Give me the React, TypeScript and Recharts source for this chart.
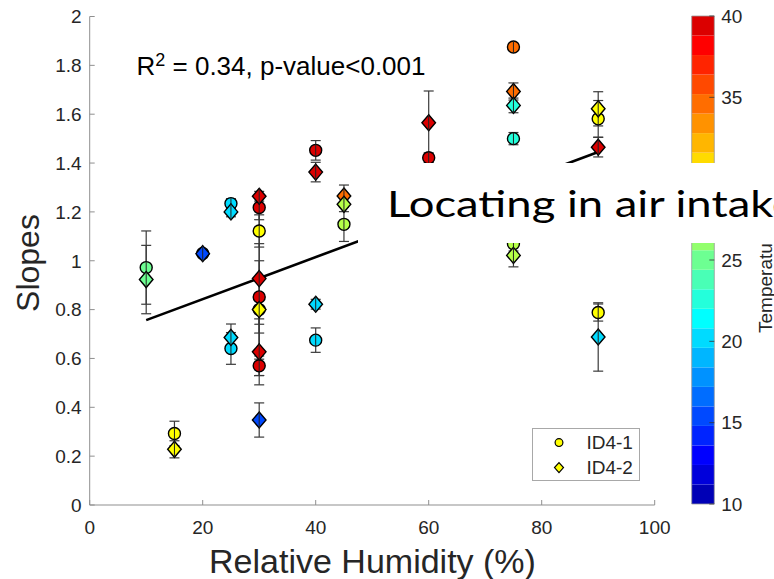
import React from 'react';
import {
  ScatterChart,
  Scatter,
  XAxis,
  YAxis,
  ErrorBar,
  ReferenceArea,
  Legend,
  Customized,
} from 'recharts';

const FONT = "'Liberation Sans', Arial, Helvetica, sans-serif";
const TEXT = '#262626';
const AXIS = '#8f8f8f';

const humidityTicks = [0, 20, 40, 60, 80, 100];
const slopeTicks = [0, 0.2, 0.4, 0.6, 0.8, 1, 1.2, 1.4, 1.6, 1.8, 2];
const tempTicks = [10, 15, 20, 25, 30, 35, 40];
const seriesNames = ['ID4-1', 'ID4-2'];

// ID4-1 (circles)
const id41Humidity = [10, 15, 20, 25, 25, 30, 30, 30, 30, 30, 40, 40, 45, 60, 75, 75, 75, 90, 90];
const id41Slope = [0.972, 0.293, 1.03, 1.234, 0.641, 1.218, 1.122, 0.852, 0.8, 0.57, 1.452, 0.675, 1.149, 1.422, 1.875, 1.5, 1.07, 1.581, 0.788];
const id41Err = [0.15, 0.05, 0.012, 0.02, 0.065, 0.05, 0.066, 0.148, 0.27, 0.04, 0.04, 0.05, 0.07, 0.02, 0.01, 0.025, 0.03, 0.075, 0.035];
const id41Temp = [25, 30, 15, 20, 20, 39, 30, 39, 30, 39, 39, 20, 27.5, 39, 34.5, 22.5, 27, 30, 30];

// ID4-2 (diamonds)
const id42Humidity = [10, 15, 20, 25, 25, 30, 30, 30, 30, 30, 40, 40, 45, 45, 60, 75, 75, 75, 90, 90, 90];
const id42Slope = [0.923, 0.228, 1.029, 1.2, 0.686, 1.264, 0.927, 0.8, 0.627, 0.348, 1.363, 0.822, 1.265, 1.231, 1.565, 1.693, 1.636, 1.022, 1.622, 1.465, 0.688];
const id42Err = [0.14, 0.035, 0.01, 0.02, 0.055, 0.02, 0.33, 0.06, 0.135, 0.07, 0.04, 0.02, 0.045, 0.03, 0.13, 0.035, 0.03, 0.047, 0.07, 0.04, 0.14];
const id42Temp = [25, 30, 15, 20, 20, 39, 39, 30, 39, 15, 39, 20, 34.5, 27.5, 39, 34.5, 22.5, 27, 30, 39, 20];

// Linear fit of slope against humidity
const fitHumidity = [10, 90];
const fitSlope = [0.757, 1.445];

// Colour scale: 25-level jet map spanning 10–40 °C
const CB_LEVELS = 25;
const CB_MIN = 10;
const CB_MAX = 40;

function jet(m: number): string[] {
  const n = Math.ceil(m / 4);
  const u: number[] = [];
  for (let i = 1; i <= n; i++) u.push(i / n);
  for (let i = 0; i < n - 1; i++) u.push(1);
  for (let i = n; i >= 1; i--) u.push(i / n);
  const g0 = Math.ceil(n / 2) - (m % 4 === 1 ? 1 : 0);
  const r = new Array(m).fill(0);
  const g = new Array(m).fill(0);
  const b = new Array(m).fill(0);
  for (let k = 1; k <= u.length; k++) {
    const gi = g0 + k;
    const ri = gi + n;
    const bi = gi - n;
    if (gi >= 1 && gi <= m) g[gi - 1] = u[k - 1];
    if (ri >= 1 && ri <= m) r[ri - 1] = u[k - 1];
    if (bi >= 1 && bi <= m) b[bi - 1] = u[k - 1];
  }
  return r.map((_, i) => `rgb(${Math.round(r[i] * 255)},${Math.round(g[i] * 255)},${Math.round(b[i] * 255)})`);
}

const JET = jet(CB_LEVELS);
const step = (CB_MAX - CB_MIN) / CB_LEVELS;
const tempColor = (t: number) => {
  const idx = Math.max(0, Math.min(CB_LEVELS - 1, Math.floor((t - CB_MIN) / step)));
  return JET[idx];
};
const cbBands = JET.map((c, i) => ({ lo: CB_MIN + i * step, hi: CB_MIN + (i + 1) * step, color: c }));
const cbAnchor = cbBands.map((b) => ({ x: 0.5, y: (b.lo + b.hi) / 2 }));

const id41 = id41Humidity.map((x, i) => ({ x, y: id41Slope[i], err: id41Err[i], temp: id41Temp[i] }));
const id42 = id42Humidity.map((x, i) => ({ x, y: id42Slope[i], err: id42Err[i], temp: id42Temp[i] }));
const fitData = fitHumidity.map((x, i) => ({ x, y: fitSlope[i] }));

const CircleMark = (props: any) => {
  const { cx, cy, payload } = props;
  if (cx == null || cy == null) return <g />;
  return (
    <g>
      <circle cx={cx} cy={cy} r={6} fill={tempColor(payload.temp)} stroke="#000" strokeWidth={1.4} />
      <line x1={cx} y1={cy - 6} x2={cx} y2={cy + 6} stroke="#222" strokeWidth={1} />
    </g>
  );
};

const DiamondMark = (props: any) => {
  const { cx, cy, payload } = props;
  if (cx == null || cy == null) return <g />;
  const w = 6.8;
  const h = 8;
  return (
    <g>
      <polygon
        points={`${cx},${cy - h} ${cx + w},${cy} ${cx},${cy + h} ${cx - w},${cy}`}
        fill={tempColor(payload.temp)}
        stroke="#000"
        strokeWidth={1.4}
        strokeLinejoin="miter"
      />
      <line x1={cx} y1={cy - h} x2={cx} y2={cy + h} stroke="#222" strokeWidth={1} />
    </g>
  );
};

const NoMark = () => <g />;

const XTick = (props: any) => {
  const { x, y, payload } = props;
  return (
    <g>
      <line x1={x} y1={y} x2={x} y2={y - 5} stroke={AXIS} strokeWidth={1} />
      <text x={x} y={y + 29} textAnchor="middle" fontSize={19} fill={TEXT} fontFamily={FONT}>
        {payload.value}
      </text>
    </g>
  );
};

const YTick = (props: any) => {
  const { x, y, payload } = props;
  return (
    <g>
      <line x1={x} y1={y} x2={x + 5} y2={y} stroke={AXIS} strokeWidth={1} />
      <text x={x - 8} y={y + 6.8} textAnchor="end" fontSize={19} fill={TEXT} fontFamily={FONT}>
        {payload.value}
      </text>
    </g>
  );
};

const CbTick = (props: any) => {
  const { x, y, payload } = props;
  return (
    <g>
      <line x1={x} y1={y} x2={x - 5} y2={y} stroke="#333" strokeWidth={0.8} />
      <text x={x + 7} y={y + 6.8} textAnchor="start" fontSize={19} fill={TEXT} fontFamily={FONT}>
        {payload.value}
      </text>
    </g>
  );
};

const MainAnnotations = () => (
  <g fontFamily={FONT} fill={TEXT}>
    <text x={136.5} y={75} fontSize={26} fill="#000">
      <tspan>R</tspan>
      <tspan dy={-9} fontSize={18}>2</tspan>
      <tspan dy={9}> = 0.34, p-value&lt;0.001</tspan>
    </text>
    <text x={39} y={263} fontSize={32} textAnchor="middle" transform="rotate(-90, 39, 263)">
      Slopes
    </text>
    <text x={372.5} y={573} fontSize={34} textAnchor="middle">
      Relative Humidity (%)
    </text>
  </g>
);

const ColorbarTitle = () => (
  <text
    x={772}
    y={260}
    fontSize={19}
    fill={TEXT}
    fontFamily={FONT}
    textAnchor="middle"
    transform="rotate(-90, 772, 260)"
  >
    Temperature (°C)
  </text>
);

const LegendBox = () => (
  <svg width={108} height={53} style={{ display: 'block' }}>
    <rect x={0.5} y={0.5} width={107} height={52} fill="#fff" stroke="#a8a8a8" strokeWidth={1} />
    <circle cx={27} cy={14.6} r={3.9} fill="rgb(255,255,0)" stroke="#000" strokeWidth={1.2} />
    <text x={54.4} y={14.6 + 6.8} fontSize={19} fill={TEXT} fontFamily={FONT}>
      {seriesNames[0]}
    </text>
    <polygon points="27,34.6 31.5,39.6 27,44.6 22.5,39.6" fill="rgb(255,255,0)" stroke="#000" strokeWidth={1.2} />
    <text x={54.4} y={39.6 + 6.8} fontSize={19} fill={TEXT} fontFamily={FONT}>
      {seriesNames[1]}
    </text>
  </svg>
);

export default function App() {
  return (
    <div style={{ position: 'absolute', left: 0, top: 0, width: 774, height: 579, overflow: 'hidden', background: '#fff' }}>
      <div style={{ position: 'absolute', left: 0, top: 0 }}>
        <ScatterChart width={774} height={579} margin={{ top: 16.5, right: 119.3, bottom: 0, left: 0 }}>
          <XAxis
            type="number"
            dataKey="x"
            domain={[0, 100]}
            ticks={humidityTicks}
            interval={0}
            height={74}
            tickSize={0}
            tickMargin={0}
            tick={<XTick />}
            axisLine={{ stroke: AXIS, strokeWidth: 1 }}
          />
          <YAxis
            type="number"
            dataKey="y"
            domain={[0, 2]}
            ticks={slopeTicks}
            interval={0}
            width={89.7}
            tickSize={0}
            tickMargin={0}
            tick={<YTick />}
            axisLine={{ stroke: AXIS, strokeWidth: 1 }}
          />
          <Scatter
            data={fitData}
            line={{ stroke: '#000', strokeWidth: 2.6 }}
            shape={NoMark}
            isAnimationActive={false}
            legendType="none"
          />
          <Scatter name={seriesNames[0]} data={id41} shape={CircleMark} isAnimationActive={false}>
            <ErrorBar dataKey="err" direction="y" width={5} stroke="#3a3a3a" strokeWidth={1.2} isAnimationActive={false} />
          </Scatter>
          <Scatter name={seriesNames[1]} data={id42} shape={DiamondMark} isAnimationActive={false}>
            <ErrorBar dataKey="err" direction="y" width={5} stroke="#3a3a3a" strokeWidth={1.2} isAnimationActive={false} />
          </Scatter>
          <Legend
            layout="vertical"
            align="center"
            verticalAlign="middle"
            wrapperStyle={{ left: 532, top: 427.5, width: 108, height: 53 }}
            content={() => <LegendBox />}
          />
          <Customized component={MainAnnotations} />
        </ScatterChart>
      </div>

      <div style={{ position: 'absolute', left: 0, top: 0 }}>
        <ScatterChart width={774} height={579} margin={{ top: 16, right: 0, bottom: 75, left: 691.7 }}>
          <XAxis type="number" dataKey="x" domain={[0, 1]} hide />
          <YAxis
            type="number"
            dataKey="y"
            orientation="right"
            domain={[CB_MIN, CB_MAX]}
            ticks={tempTicks}
            interval={0}
            width={59.7}
            tickSize={0}
            tickMargin={0}
            tick={<CbTick />}
            axisLine={false}
          />
          {cbBands.map((b, i) => (
            <ReferenceArea key={i} x1={0} x2={1} y1={b.lo} y2={b.hi} fill={b.color} fillOpacity={1} stroke="none" />
          ))}
          <ReferenceArea x1={0} x2={1} y1={CB_MIN} y2={CB_MAX} fill="none" stroke="#9a9a9a" strokeWidth={0.8} />
          <Scatter data={cbAnchor} shape={NoMark} isAnimationActive={false} legendType="none" />
          <Customized component={ColorbarTitle} />
        </ScatterChart>
      </div>

      <div style={{ position: 'absolute', left: 358, top: 163, width: 416, height: 79.5, background: '#fff' }}>
        <svg width={416} height={79.5} style={{ display: 'block' }}>
          <text
            x={29}
            y={53.7}
            fontSize={37}
            fontFamily="Lato, 'Open Sans', sans-serif"
            fill="#000"
            textLength={409}
            lengthAdjust="spacingAndGlyphs"
          >
            Locating in air intake
          </text>
        </svg>
      </div>
    </div>
  );
}
